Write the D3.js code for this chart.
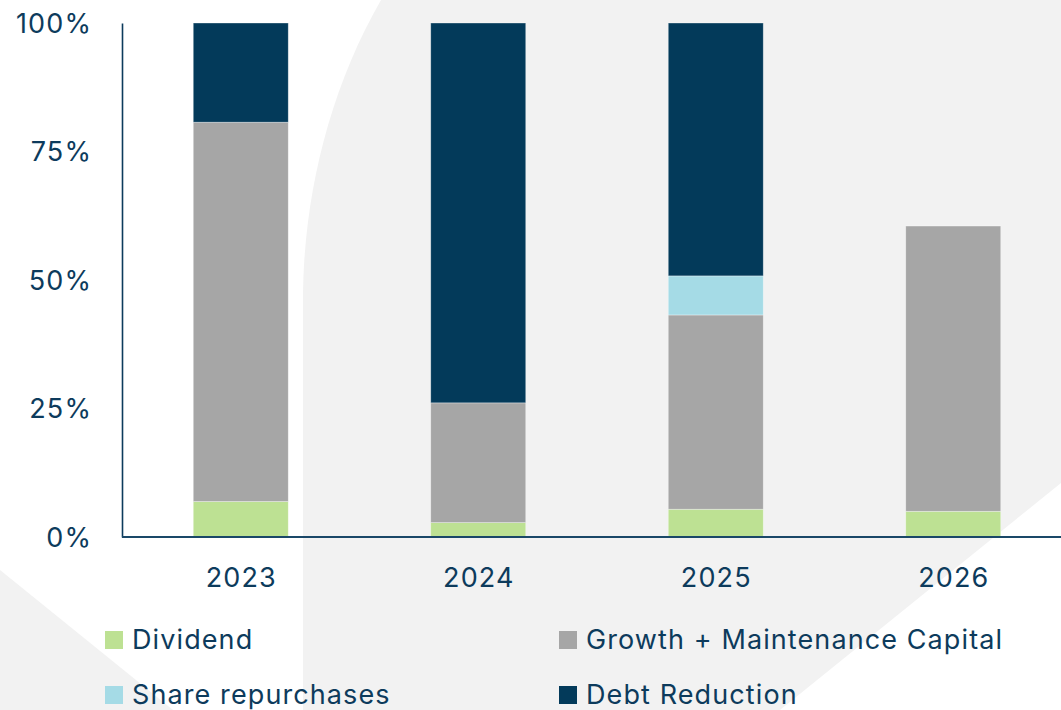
<!DOCTYPE html>
<html>
<head>
<meta charset="utf-8">
<script src="https://cdn.jsdelivr.net/npm/d3@7"></script>
<style>
  html, body { margin: 0; padding: 0; background: #ffffff; }
  svg { display: block; }
  text { font-family: Inter, "Open Sans", sans-serif; fill: #0d3b5c; letter-spacing: 1.1px; }
</style>
</head>
<body>
<svg id="chart" width="1061" height="710"></svg>
<script>
// Capital allocation by year, share of total (%)
const years = ["2023", "2024", "2025", "2026"];
const dividend = [6.9, 2.8, 5.4, 5.0];
const growthCapital = [73.8, 23.3, 37.8, 55.5];
const shareRepurchases = [0, 0, 7.6, 0];
const debtReduction = [19.3, 73.9, 49.2, 0];
const yTicks = [0, 25, 50, 75, 100];

const seriesNames = ["Dividend", "Growth + Maintenance Capital", "Share repurchases", "Debt Reduction"];
const seriesColors = ["#bde193", "#a6a6a6", "#a5dbe6", "#033a5a"];
const seriesValues = [dividend, growthCapital, shareRepurchases, debtReduction];

const W = 1061, H = 710;
const FONT_SIZE = 27;
const svg = d3.select("#chart");

// Decorative background panels
const bg = svg.append("g");
bg.append("path")
  .attr("d", "M303,710 L303,300 C303,200 328,92 381,0 L1061,0 L1061,483 L780,710 Z")
  .attr("fill", "#f2f2f2");
bg.append("path")
  .attr("d", "M0,570 L173,710 L0,710 Z")
  .attr("fill", "#f2f2f2");

// Scales
const x = d3.scaleBand()
  .domain(years)
  .range([122, 1072])
  .paddingInner(0.6)
  .paddingOuter(0.3);

const y = d3.scaleLinear()
  .domain([0, 100])
  .range([537, 23]);

// Stacked data
const rows = years.map((yr, i) => {
  const r = { year: yr };
  seriesNames.forEach((s, k) => { r[s] = seriesValues[k][i]; });
  return r;
});
const stack = d3.stack().keys(seriesNames);
const layers = stack(rows);
const color = d3.scaleOrdinal().domain(seriesNames).range(seriesColors);

// Bars
svg.append("g")
  .selectAll("g")
  .data(layers)
  .join("g")
  .attr("fill", d => color(d.key))
  .selectAll("rect")
  .data(d => d.filter(p => p[1] - p[0] > 0))
  .join("rect")
  .attr("x", d => x(d.data.year))
  .attr("width", x.bandwidth())
  .attr("y", d => y(d[1]))
  .attr("height", d => y(d[0]) - y(d[1]))
  .attr("stroke", "rgba(255,255,255,0.45)")
  .attr("stroke-width", 0.75);

// Y axis
const yAxis = svg.append("g")
  .attr("transform", "translate(122,0)")
  .call(d3.axisLeft(y).tickValues(yTicks).tickFormat(d => d + "%").tickSize(0).tickPadding(30));
yAxis.select(".domain").attr("stroke", "#0c3b5c").attr("stroke-width", 1.6);
yAxis.selectAll("text")
  .attr("font-size", FONT_SIZE)
  .attr("font-family", "Inter, 'Open Sans', sans-serif")
  .attr("fill", "#0d3b5c")
  .attr("dy", "0.35em");

// X axis
const xAxis = svg.append("g")
  .attr("transform", "translate(0,537)")
  .call(d3.axisBottom(x).tickSize(0).tickPadding(0));
xAxis.select(".domain").remove();
xAxis.append("line")
  .attr("x1", 122).attr("x2", W)
  .attr("y1", 0).attr("y2", 0)
  .attr("stroke", "#1a4868").attr("stroke-width", 2);
xAxis.selectAll(".tick text")
  .attr("font-size", FONT_SIZE)
  .attr("font-family", "Inter, 'Open Sans', sans-serif")
  .attr("fill", "#0d3b5c")
  .attr("x", 0.5)
  .attr("y", 41)
  .attr("dy", "0.35em");

// Legend: two columns, two rows
const legendOrder = ["Dividend", "Growth + Maintenance Capital", "Share repurchases", "Debt Reduction"];
const colX = [105, 559];
const rowY = [640, 695];
const legend = svg.append("g");
legendOrder.forEach((name, i) => {
  const cx = colX[i % 2], cy = rowY[Math.floor(i / 2)];
  const g = legend.append("g").attr("transform", `translate(${cx},${cy})`);
  g.append("rect")
    .attr("x", 0).attr("y", -9)
    .attr("width", 18).attr("height", 18)
    .attr("fill", color(name));
  g.append("text")
    .attr("x", 27).attr("y", 0)
    .attr("dy", "0.35em")
    .attr("font-size", FONT_SIZE)
    .text(name);
});
</script>
</body>
</html>
